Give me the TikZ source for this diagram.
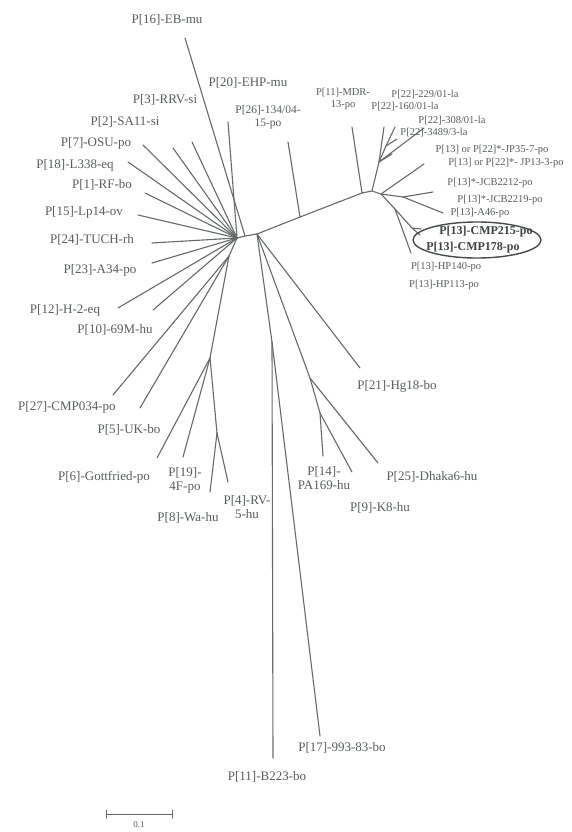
\documentclass[tikz,border=0pt]{standalone}
\usepackage{fontspec}
\setmainfont{Liberation Serif}
\usetikzlibrary{shapes.geometric}
\definecolor{ink}{RGB}{88,94,94}
\definecolor{brc}{RGB}{100,106,106}
\begin{document}
\begin{tikzpicture}[x=1pt,y=-1pt,
  br/.style={draw=brc, line width=1.1pt, line cap=round, line join=round},
  lab/.style={text=ink, font=\fontsize{13}{14}\selectfont, inner sep=0pt, align=center},
  mlab/.style={text=ink, font=\fontsize{11.5}{12.5}\selectfont, inner sep=0pt, align=center},
  slab/.style={text=ink, font=\fontsize{10.5}{11.5}\selectfont, inner sep=0pt, align=center},
  blab/.style={text=ink!70!black, font=\bfseries\fontsize{12}{13}\selectfont, inner sep=0pt}]
\useasboundingbox[fill=white] (0,0) rectangle (571,832);

% internal nodes and leaf ends
\coordinate (L) at (237,238);
\coordinate (M) at (245,236);
\coordinate (C) at (257,234);
\coordinate (L2) at (229,256);
\coordinate (e16) at (185,38);
\coordinate (e20) at (228,122);
\coordinate (e3) at (192,142);
\coordinate (e2) at (173,148);
\coordinate (e7) at (143,145);
\coordinate (e18) at (128,162);
\coordinate (e1) at (145,193);
\coordinate (e15) at (138,215);
\coordinate (e24) at (152,243);
\coordinate (e23) at (152,263);
\coordinate (e12) at (118,308);
\coordinate (e10) at (153,310);
\coordinate (e27) at (113,395);
\coordinate (e5) at (140,408);
\coordinate (S1) at (210,358);
\coordinate (e6) at (157,458);
\coordinate (e19) at (183,457);
\coordinate (S2) at (217,433);
\coordinate (e8) at (210,492);
\coordinate (e4) at (228,482);
\coordinate (J) at (272,342);
\coordinate (e11) at (273,758);
\coordinate (e17) at (320,736);
\coordinate (N1) at (310,378);
\coordinate (e25) at (378,463);
\coordinate (N2) at (320,413);
\coordinate (e14) at (323,456);
\coordinate (e9) at (352,472);
\coordinate (e21) at (360,368);
\coordinate (B1) at (300,217);
\coordinate (e26) at (288,142);
\coordinate (R1) at (362,193);
\coordinate (eMDR) at (352,127);
\coordinate (R2) at (372,191);
\coordinate (R3) at (381,194);
\coordinate (Q1) at (379,162);
\coordinate (ea) at (384,127);
\coordinate (Q2) at (386,146);
\coordinate (eb) at (395,127);
\coordinate (ec) at (424,128);
\coordinate (ed) at (397,139);
\coordinate (ee) at (392,154);
\coordinate (eJP) at (424,164);
\coordinate (R4) at (403,197);
\coordinate (eJCB) at (433,192);
\coordinate (eA46) at (443,213);
\coordinate (R5) at (395,209);
\coordinate (R6) at (412,228);
\coordinate (eC1) at (421,229);
\coordinate (eC2) at (420,235);
\coordinate (eHP) at (411,253);

% branches
\draw[br] (L) -- (M) -- (C);
\draw[br] (M) -- (e16);
\foreach \e in {e20,e3,e2,e7,e18,e1,e15,e24,e23,e12,e10} \draw[br] (L) -- (\e);
\draw[br] (L) -- (L2);
\foreach \e in {e27,e5,S1} \draw[br] (L2) -- (\e);
\foreach \e in {e6,e19,S2} \draw[br] (S1) -- (\e);
\foreach \e in {e8,e4} \draw[br] (S2) -- (\e);
\draw[br] (C) -- (J) -- (e11);
\draw[br] (J) -- (e17);
\draw[br] (C) -- (N1) -- (e25);
\draw[br] (N1) -- (N2) -- (e14);
\draw[br] (N2) -- (e9);
\draw[br] (C) -- (e21);
\draw[br] (C) -- (B1) -- (R1);
\draw[br] (B1) -- (e26);
\draw[br] (R1) -- (eMDR);
\draw[br] (R1) -- (R2) -- (R3);
\draw[br] (R2) -- (Q1) -- (ea);
\draw[br] (Q1) -- (Q2) -- (eb);
\draw[br] (Q1) -- (ec);
\draw[br] (Q2) -- (ed);
\draw[br] (Q1) -- (ee);
\draw[br] (R3) -- (eJP);
\draw[br] (R3) -- (R4) -- (eJCB);
\draw[br] (R4) -- (eA46);
\draw[br] (R3) -- (R5) -- (R6) -- (eC1);
\draw[br] (R6) -- (eC2);
\draw[br] (R5) -- (eHP);

% labels
\node[lab] (t16) at (167,20) {P[16]-EB-mu};
\node[lab] (t20) at (248,83) {P[20]-EHP-mu};
\node[lab] (t3) at (165,100) {P[3]-RRV-si};
\node[mlab] (t26) at (268,117) {P[26]-134/04-\\15-po};
\node[lab] (t2) at (125,122) {P[2]-SA11-si};
\node[lab] (t7) at (96,143) {P[7]-OSU-po};
\node[lab] (t18) at (75,165) {P[18]-L338-eq};
\node[lab] (t1) at (102,185) {P[1]-RF-bo};
\node[lab] (t15) at (84,212) {P[15]-Lp14-ov};
\node[lab] (t24) at (92,240) {P[24]-TUCH-rh};
\node[lab] (t23) at (100,270) {P[23]-A34-po};
\node[lab] (t12) at (65,310) {P[12]-H-2-eq};
\node[lab] (t10) at (115,330) {P[10]-69M-hu};
\node[lab] (t27) at (67,407) {P[27]-CMP034-po};
\node[lab] (t5) at (129,430) {P[5]-UK-bo};
\node[lab] (t6) at (104,477) {P[6]-Gottfried-po};
\node[lab] (t19) at (185,480) {P[19]-\\4F-po};
\node[lab] (t8) at (188,518) {P[8]-Wa-hu};
\node[lab] (t4) at (247,507) {P[4]-RV-\\5-hu};
\node[lab] (t21) at (397,386) {P[21]-Hg18-bo};
\node[lab] (t14) at (324,478) {P[14]-\\PA169-hu};
\node[lab] (t9) at (380,508) {P[9]-K8-hu};
\node[lab] (t25) at (432,477) {P[25]-Dhaka6-hu};
\node[lab] (t17) at (342,748) {P[17]-993-83-bo};
\node[lab] (t11) at (267,777) {P[11]-B223-bo};

\node[slab] (tMDR) at (343,99) {P[11]-MDR-\\13-po};
\node[slab] (t229) at (425,95) {P[22]-229/01-la};
\node[slab] (t160) at (405,107) {P[22]-160/01-la};
\node[slab] (t308) at (452,121) {P[22]-308/01-la};
\node[slab] (t3489) at (434,133) {P[22]-3489/3-la};
\node[slab] (tJP35) at (492,150) {P[13] or P[22]*-JP35-7-po};
\node[slab] (tJP13) at (506,163) {P[13] or P[22]*- JP13-3-po};
\node[slab] (tJCB12) at (490,183) {P[13]*-JCB2212-po};
\node[slab] (tJCB19) at (500,200) {P[13]*-JCB2219-po};
\node[slab] (tA46) at (480,213) {P[13]-A46-po};
\node[blab] (tCMP215) at (486,232) {P[13]-CMP215-po};
\node[blab] (tCMP178) at (473,248) {P[13]-CMP178-po};
\node[draw=ink!80!black, line width=1.4pt, ellipse, minimum width=128pt, minimum height=36pt, inner sep=0pt] (ell) at (477,240) {};
\node[slab] (tHP140) at (446,267) {P[13]-HP140-po};
\node[slab] (tHP113) at (444,285) {P[13]-HP113-po};

% scale bar
\coordinate (sa) at (106,814);
\coordinate (sb) at (172,814);
\draw[br, line width=1pt] (sa) -- (sb);
\draw[br, line width=1pt] ([yshift=-4pt]sa) -- ([yshift=4pt]sa);
\draw[br, line width=1pt] ([yshift=-4pt]sb) -- ([yshift=4pt]sb);
\node[slab, font=\fontsize{9}{10}\selectfont] (tsc) at (139,825) {0.1};
\end{tikzpicture}
\end{document}
